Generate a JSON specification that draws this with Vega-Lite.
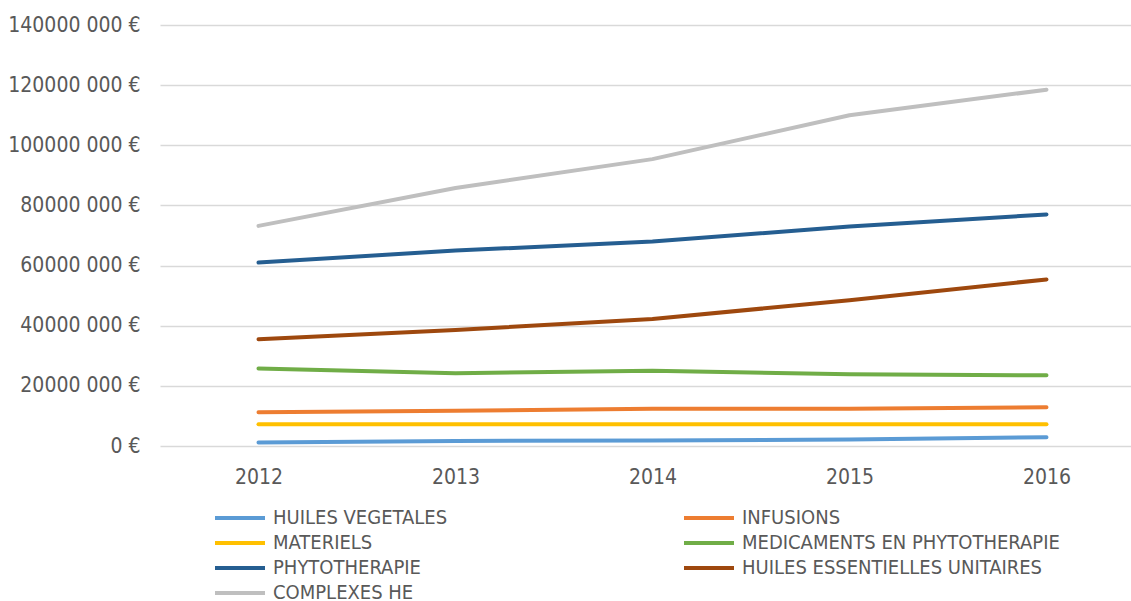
{
  "$schema": "https://vega.github.io/schema/vega-lite/v6.json",
  "autosize": "none",
  "width": 971,
  "height": 421,
  "padding": {"left": 160, "top": 25, "right": 0, "bottom": 155},
  "background": "white",
  "config": {
    "view": {"stroke": null},
    "font": "Liberation Sans Narrow, DejaVu Sans Condensed, sans-serif"
  },
  "data": {
    "values": [
      {"year": 2012, "cat": "HUILES VEGETALES", "v": 1200000},
      {"year": 2013, "cat": "HUILES VEGETALES", "v": 1700000},
      {"year": 2014, "cat": "HUILES VEGETALES", "v": 1800000},
      {"year": 2015, "cat": "HUILES VEGETALES", "v": 2200000},
      {"year": 2016, "cat": "HUILES VEGETALES", "v": 2900000},
      {"year": 2012, "cat": "INFUSIONS", "v": 11200000},
      {"year": 2013, "cat": "INFUSIONS", "v": 11700000},
      {"year": 2014, "cat": "INFUSIONS", "v": 12400000},
      {"year": 2015, "cat": "INFUSIONS", "v": 12400000},
      {"year": 2016, "cat": "INFUSIONS", "v": 12900000},
      {"year": 2012, "cat": "MATERIELS", "v": 7200000},
      {"year": 2013, "cat": "MATERIELS", "v": 7200000},
      {"year": 2014, "cat": "MATERIELS", "v": 7200000},
      {"year": 2015, "cat": "MATERIELS", "v": 7200000},
      {"year": 2016, "cat": "MATERIELS", "v": 7200000},
      {"year": 2012, "cat": "MEDICAMENTS EN PHYTOTHERAPIE", "v": 25800000},
      {"year": 2013, "cat": "MEDICAMENTS EN PHYTOTHERAPIE", "v": 24200000},
      {"year": 2014, "cat": "MEDICAMENTS EN PHYTOTHERAPIE", "v": 25000000},
      {"year": 2015, "cat": "MEDICAMENTS EN PHYTOTHERAPIE", "v": 23900000},
      {"year": 2016, "cat": "MEDICAMENTS EN PHYTOTHERAPIE", "v": 23500000},
      {"year": 2012, "cat": "PHYTOTHERAPIE", "v": 61000000},
      {"year": 2013, "cat": "PHYTOTHERAPIE", "v": 65000000},
      {"year": 2014, "cat": "PHYTOTHERAPIE", "v": 68000000},
      {"year": 2015, "cat": "PHYTOTHERAPIE", "v": 73000000},
      {"year": 2016, "cat": "PHYTOTHERAPIE", "v": 77000000},
      {"year": 2012, "cat": "HUILES ESSENTIELLES UNITAIRES", "v": 35500000},
      {"year": 2013, "cat": "HUILES ESSENTIELLES UNITAIRES", "v": 38600000},
      {"year": 2014, "cat": "HUILES ESSENTIELLES UNITAIRES", "v": 42200000},
      {"year": 2015, "cat": "HUILES ESSENTIELLES UNITAIRES", "v": 48500000},
      {"year": 2016, "cat": "HUILES ESSENTIELLES UNITAIRES", "v": 55400000},
      {"year": 2012, "cat": "COMPLEXES HE", "v": 73200000},
      {"year": 2013, "cat": "COMPLEXES HE", "v": 85800000},
      {"year": 2014, "cat": "COMPLEXES HE", "v": 95400000},
      {"year": 2015, "cat": "COMPLEXES HE", "v": 110000000},
      {"year": 2016, "cat": "COMPLEXES HE", "v": 118500000}
    ]
  },
  "mark": {"type": "line", "strokeWidth": 4, "strokeCap": "round", "strokeJoin": "round"},
  "encoding": {
    "x": {
      "field": "year",
      "type": "quantitative",
      "scale": {"domain": [2011.5, 2016.429], "nice": false, "zero": false},
      "axis": {
        "title": null,
        "values": [2012, 2013, 2014, 2015, 2016],
        "format": "d",
        "grid": false,
        "domain": false,
        "ticks": false,
        "labelFontSize": 21,
        "labelColor": "#595959",
        "labelPadding": 20,
        "labelFlush": false
      }
    },
    "y": {
      "field": "v",
      "type": "quantitative",
      "scale": {"domain": [0, 140000000], "nice": false},
      "axis": {
        "title": null,
        "values": [0, 20000000, 40000000, 60000000, 80000000, 100000000, 120000000, 140000000],
        "labelExpr": "datum.value == 0 ? '0 €' : format(datum.value / 1000, 'd') + ' 000 €'",
        "domain": false,
        "ticks": false,
        "grid": true,
        "gridColor": "#D9D9D9",
        "gridWidth": 1.3,
        "labelFontSize": 21,
        "labelColor": "#595959",
        "labelPadding": 20
      }
    },
    "color": {
      "field": "cat",
      "type": "nominal",
      "sort": null,
      "scale": {
        "domain": ["HUILES VEGETALES", "MATERIELS", "PHYTOTHERAPIE", "COMPLEXES HE", "INFUSIONS", "MEDICAMENTS EN PHYTOTHERAPIE", "HUILES ESSENTIELLES UNITAIRES"],
        "range": ["#5B9BD5", "#FFC000", "#255E91", "#BFBFBF", "#ED7D31", "#70AD47", "#9E480E"]
      },
      "legend": {
        "title": null,
        "orient": "none",
        "legendX": 68,
        "legendY": 481,
        "columns": 2,
        "columnPadding": 228,
        "rowPadding": 3,
        "symbolType": "M-2.5,0H2.5",
        "symbolSize": 400,
        "symbolStrokeWidth": 4,
        "labelFontSize": 20,
        "labelColor": "#595959",
        "labelOffset": 21,
        "labelLimit": 500
      }
    }
  }
}
